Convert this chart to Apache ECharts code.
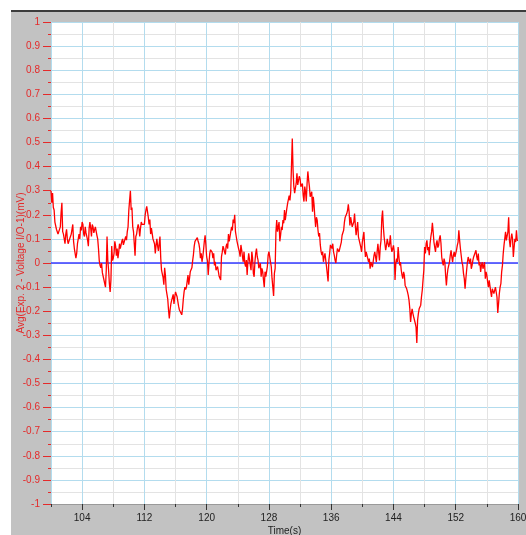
<!DOCTYPE html>
<html>
<head>
<meta charset="utf-8">
<script src="https://cdn.jsdelivr.net/npm/echarts@6/dist/echarts.min.js"></script>
<style>
  html, body { margin: 0; padding: 0; background: #ffffff; }
  #frame { position: absolute; left: 11px; top: 10px; width: 515px; height: 525px; background: #c2c2c2; border-top: 2px solid #3c3c3c; box-sizing: border-box; }
  #chart { position: absolute; left: 0; top: 0; width: 526px; height: 535px; }
</style>
</head>
<body>
<div id="frame"></div>
<div id="chart"></div>
<script>
// Time axis (seconds) and sampling of the trace
const timeStart = 100;
const timeEnd = 160;
const sampleStep = 0.2;      // spacing of the main readings
const midOffset = 0.1;       // readings taken half-way between them
const xMajorTicks = [104, 112, 120, 128, 136, 144, 152, 160];
const xMinorTicks = [100, 108, 116, 124, 132, 140, 148, 156];
const yMajorTicks = [-1, -0.9, -0.8, -0.7, -0.6, -0.5, -0.4, -0.3, -0.2, -0.1, 0, 0.1, 0.2, 0.3, 0.4, 0.5, 0.6, 0.7, 0.8, 0.9, 1];
const yMinorTicks = [-0.95, -0.85, -0.75, -0.65, -0.55, -0.45, -0.35, -0.25, -0.15, -0.05, 0.05, 0.15, 0.25, 0.35, 0.45, 0.55, 0.65, 0.75, 0.85, 0.95];
const baselineValue = 0;

// Avg(Exp. 2 - Voltage I/O-1)(mV) at t = 100, 100.2, ... 160
const voltage = [
  0.30, 0.29, 0.22, 0.17, 0.14, 0.13, 0.15, 0.25, 0.12, 0.08,
  0.14, 0.08, 0.10, 0.12, 0.16, 0.06, 0.02, 0.08, 0.12, 0.15,
  0.17, 0.12, 0.15, 0.12, 0.07, 0.17, 0.11, 0.15, 0.13, 0.15,
  0.10, 0.01, -0.02, -0.04, -0.06, -0.10, 0.11, -0.03, -0.12, 0.07,
  0.02, 0.09, 0.03, 0.02, 0.08, 0.06, 0.10, 0.07, 0.11, 0.13,
  0.22, 0.30, 0.23, 0.13, 0.03, 0.12, 0.16, 0.11, 0.17, 0.16,
  0.16, 0.22, 0.24, 0.16, 0.12, 0.15, 0.10, 0.04, 0.10, 0.05,
  0.11, -0.03, -0.06, -0.02, -0.11, -0.15, -0.23, -0.17, -0.15, -0.17,
  -0.12, -0.14, -0.18, -0.20, -0.215, -0.15, -0.10, -0.10, -0.05, -0.085,
  -0.03, 0.01, 0.07, 0.095, 0.105, 0.08, 0.02, 0.005, 0.055, 0.115,
  0.025, -0.05, 0.04, 0.06, 0.02, -0.01, -0.03, -0.015, -0.055, -0.07,
  0.045, 0.06, 0.035, 0.08, 0.12, 0.11, 0.15, 0.18, 0.20, 0.11,
  0.095, 0.047, 0.075, 0.026, 0.047, -0.015, -0.05, 0.04, 0.012, 0.047,
  -0.043, 0.005, 0.06, 0.012, -0.022, -0.057, -0.036, -0.10, -0.057, -0.015,
  0.047, 0.005, -0.064, -0.137, -0.022, 0.178, 0.137, 0.09, 0.15, 0.178,
  0.22, 0.185, 0.247, 0.28, 0.296, 0.517, 0.317, 0.296, 0.372, 0.324,
  0.35, 0.31, 0.28, 0.317, 0.255, 0.38, 0.317, 0.27, 0.213, 0.24,
  0.15, 0.178, 0.11, 0.075, 0.033, 0.005, 0.04, -0.015, -0.077, 0.04,
  0.082,
  0.08, 0.032, 0.0, 0.06, 0.046, 0.053, 0.115, 0.136, 0.19, 0.205,
  0.243, 0.156, 0.184, 0.142, 0.205, 0.115, 0.17, 0.094, 0.066, 0.087,
  0.129, 0.025, 0.046, 0.004, -0.024, 0.011, -0.01, 0.046, 0.004, 0.08,
  0.011, 0.094, 0.218, 0.108, 0.053, 0.10, 0.066, 0.115, 0.046, 0.073,
  -0.07, 0.018, 0.066, -0.01, -0.03, -0.065, -0.05, -0.10, -0.12, -0.155,
  -0.245, -0.19, -0.224, -0.25, -0.332, -0.21, -0.196, -0.14, -0.07, 0.066,
  0.08, 0.053, 0.032, 0.108, 0.167, 0.087, 0.046, 0.094, 0.073, 0.115,
  0.025, -0.01, 0.004, -0.093, -0.024, 0.004, 0.053, 0.004, 0.046, 0.018,
  0.073, 0.136, 0.06, 0.004, -0.044, -0.107, -0.03, 0.025, -0.003, -0.024,
  0.011, 0.032, 0.053, 0.011, -0.01, -0.037, 0.004, -0.017, -0.065, -0.051,
  -0.10, -0.079, -0.141, -0.10, -0.134, -0.10, -0.207, -0.127, -0.086, -0.01,
  0.073, 0.129, 0.094, 0.19, 0.066, 0.122, 0.025, 0.10, 0.136, 0.094
];

// readings at t = 100.1, 100.3, ... 159.9
const voltageMid = [
  0.25, 0.23, 0.17, 0.14, 0.12, 0.13, 0.21, 0.13, 0.10, 0.12,
  0.10, 0.075, 0.11, 0.115, 0.09, 0.055, 0.04, 0.10, 0.10, 0.135,
  0.16, 0.11, 0.125, 0.095, 0.145, 0.145, 0.16, 0.125, 0.15, 0.115,
  0.06, -0.01, 0.0, -0.055, -0.055, -0.03, 0.01, -0.085, -0.07, 0.01,
  0.04, 0.07, 0.06, 0.045, 0.06, 0.09, 0.075, 0.08, 0.095, 0.15,
  0.26, 0.22, 0.15, 0.08, 0.11, 0.145, 0.145, 0.145, 0.16, 0.165,
  0.20, 0.235, 0.19, 0.18, 0.145, 0.10, 0.08, 0.075, 0.07, 0.08,
  0.02, -0.045, -0.09, -0.05, -0.13, -0.195, -0.195, -0.155, -0.13, -0.14,
  -0.13, -0.16, -0.195, -0.19, -0.19, -0.12, -0.11, -0.075, -0.09, -0.035,
  -0.02, 0.035, 0.09, 0.09, 0.09, 0.06, 0.04, 0.025, 0.09, 0.075,
  0.01, 0.0, 0.055, 0.045, 0.04, 0.005, -0.035, -0.035, -0.05, 0.025,
  0.07, 0.045, 0.07, 0.06, 0.09, 0.13, 0.135, 0.165, 0.13, 0.09,
  0.06, 0.026, 0.054, 0.005, -0.001, 0.012, 0.005, 0.015, -0.03, 0.02,
  -0.057, 0.04, 0.026, -0.022, -0.001, -0.022, -0.07, -0.036, -0.05, 0.033,
  0.04, -0.015, -0.10, -0.043, 0.13, 0.13, 0.17, 0.116, 0.137, 0.165,
  0.178, 0.227, 0.255, 0.26, 0.30, 0.385, 0.29, 0.33, 0.324, 0.36,
  0.317, 0.33, 0.255, 0.296, 0.33, 0.345, 0.275, 0.296, 0.275, 0.19,
  0.19, 0.137, 0.124, 0.047, 0.047, 0.026, 0.012, -0.015, 0.012, 0.075,
  0.06, 0.046, 0.011, 0.032, 0.066, 0.041, 0.087, 0.115, 0.17, 0.198,
  0.218, 0.212, 0.19, 0.15, 0.17, 0.156, 0.142, 0.108, 0.10, 0.046,
  0.08, 0.066, 0.046, 0.018, 0.018, 0.004, -0.017, 0.032, 0.025, 0.046,
  0.046, 0.066, 0.184, 0.15, 0.08, 0.073, 0.108, 0.08, 0.066, 0.06,
  0.046, -0.003, 0.004, 0.025, 0.004, -0.05, -0.037, -0.093, -0.107, -0.134,
  -0.19, -0.21, -0.21, -0.217, -0.266, -0.238, -0.19, -0.175, -0.113, -0.03,
  0.04, 0.094, 0.066, 0.08, 0.129, 0.129, 0.066, 0.08, 0.064, 0.10,
  0.083, 0.004, 0.018, -0.051, -0.051, -0.01, 0.032, 0.025, 0.032, 0.025,
  0.053, 0.087, 0.094, 0.032, -0.01, -0.065, -0.065, 0.004, 0.011, 0.018,
  -0.01, 0.025, 0.028, 0.025, 0.039, 0.004, -0.01, -0.024, 0.004, -0.037,
  -0.079, -0.072, -0.12, -0.107, -0.127, -0.1, -0.141, -0.169, -0.1, -0.037,
  0.039, 0.08, 0.094, 0.129, 0.094, 0.1, 0.1, 0.066, 0.087, 0.094
];

const seriesData = [];
voltage.forEach((v, i) => {
  const t = timeStart + i * sampleStep;
  seriesData.push([+t.toFixed(2), v]);
  if (i < voltageMid.length) seriesData.push([+(t + midOffset).toFixed(2), voltageMid[i]]);
});

const RED = '#e42a2a';
const GRID_BLUE = '#b3dcee';
const GRID_GRAY = '#e3e3e3';
const ZERO_BLUE = '#3a3aff';
const FONT = '"Liberation Sans Narrow", "Liberation Sans", Arial, sans-serif';

const chart = echarts.init(document.getElementById('chart'), null, { renderer: 'canvas' });
chart.setOption({
  animation: false,
  backgroundColor: 'transparent',
  grid: { left: 51, right: 8, top: 22, bottom: 31, show: true, backgroundColor: '#ffffff', borderWidth: 0, containLabel: false, outerBoundsMode: 'none' },
  xAxis: [
    {
      type: 'value', min: timeStart, max: timeEnd, position: 'bottom',
      axisLine: { show: true, onZero: false, lineStyle: { color: '#9a9a9a', width: 1 } },
      axisTick: { show: true, customValues: xMinorTicks, length: 3, lineStyle: { color: '#333' } },
      axisLabel: { show: false },
      splitLine: { show: true, lineStyle: { color: GRID_GRAY, width: 1 } }
    },
    {
      type: 'value', min: timeStart, max: timeEnd, position: 'bottom',
      axisLine: { show: false, onZero: false },
      axisTick: { show: true, customValues: xMajorTicks, length: 6, lineStyle: { color: '#333' } },
      axisLabel: { show: true, customValues: xMajorTicks, color: '#222', fontSize: 10, fontFamily: FONT, margin: 9 },
      splitLine: { show: true, lineStyle: { color: GRID_BLUE, width: 1 } },
      name: 'Time(s)', nameLocation: 'middle', nameGap: 22, nameMoveOverlap: false,
      nameTextStyle: { color: '#222', fontSize: 10, fontFamily: FONT }
    }
  ],
  yAxis: [
    {
      type: 'value', min: -1, max: 1, position: 'left',
      axisLine: { show: true, onZero: false, lineStyle: { color: GRID_BLUE } },
      axisTick: { show: true, customValues: yMinorTicks, length: 3, lineStyle: { color: RED } },
      axisLabel: { show: false },
      splitLine: { show: true, lineStyle: { color: GRID_GRAY, width: 1 } }
    },
    {
      type: 'value', min: -1, max: 1, position: 'left',
      axisLine: { show: false, onZero: false },
      axisTick: { show: true, customValues: yMajorTicks, length: 8, lineStyle: { color: RED } },
      axisLabel: { show: true, customValues: yMajorTicks, color: RED, fontSize: 10, fontFamily: FONT, margin: 11 },
      splitLine: { show: true, lineStyle: { color: GRID_BLUE, width: 1 } },
      name: 'Avg(Exp. 2 - Voltage I/O-1)(mV)', nameLocation: 'middle', nameGap: 25, nameMoveOverlap: false,
      nameTextStyle: { color: RED, fontSize: 10, fontFamily: FONT }
    }
  ],
  series: [
    {
      type: 'line', xAxisIndex: 0, yAxisIndex: 0,
      data: seriesData,
      showSymbol: false, symbol: 'none', sampling: null,
      lineStyle: { color: '#ff0000', width: 1.3 },
      z: 3,
      markLine: {
        silent: true, symbol: ['none', 'none'], label: { show: false },
        lineStyle: { color: ZERO_BLUE, width: 1.5, type: 'solid', opacity: 1 },
        emphasis: { disabled: true },
        data: [{ yAxis: baselineValue, lineStyle: { color: ZERO_BLUE, width: 1.5, type: 'solid' } }],
        z: 2
      }
    }
  ]
});
</script>
</body>
</html>
